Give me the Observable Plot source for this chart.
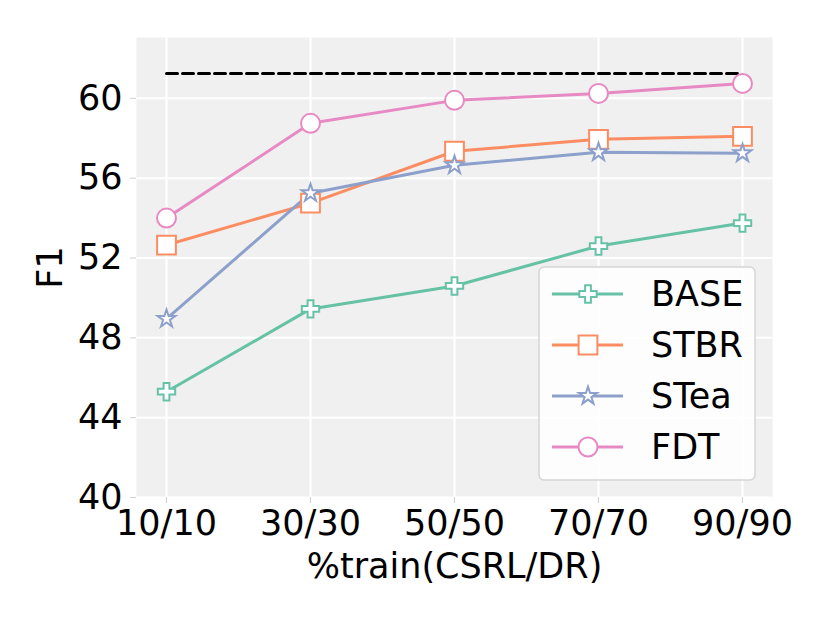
<!DOCTYPE html>
<html>
<head>
<meta charset="utf-8">
<script src="https://cdn.jsdelivr.net/npm/d3@7"></script>
<script src="https://cdn.jsdelivr.net/npm/@observablehq/plot@0.6"></script>
<style>
  html, body { margin: 0; padding: 0; background: white; }
</style>
</head>
<body>
<div id="chart"></div>
<script>
const categories = ["10/10", "30/30", "50/50", "70/70", "90/90"];
const seriesNames = ["BASE", "STBR", "STea", "FDT"];
const baseValues = [45.3, 49.45, 50.6, 52.6, 53.75];
const stbrValues = [52.65, 54.75, 57.35, 57.95, 58.1];
const steaValues = [48.95, 55.25, 56.65, 57.3, 57.25];
const fdtValues = [54.0, 58.75, 59.9, 60.25, 60.75];
const upperBound = 61.25;
const yTicks = [40, 44, 48, 52, 56, 60];
const colors = ["#66c2a5", "#fc8d62", "#8da0cb", "#e78ac3"];
const symbols = ["cross", "square", "star", "circle"];
const symbolR = [7.3, 10.6, 5.6, 9.5];

const valueLists = [baseValues, stbrValues, steaValues, fdtValues];
const rows = [];
seriesNames.forEach((s, i) => {
  categories.forEach((c, j) => rows.push({series: s, cat: c, value: valueLists[i][j]}));
});
const dashed = [{cat: categories[0], value: upperBound}, {cat: categories[categories.length - 1], value: upperBound}];

const font = "DejaVu Sans";
const fs = 35;
const marks = [
  Plot.frame({fill: "#f0f0f0", stroke: null}),
  Plot.gridX({stroke: "white", strokeOpacity: 1, strokeWidth: 2}),
  Plot.gridY(yTicks, {stroke: "white", strokeOpacity: 1, strokeWidth: 2}),
  Plot.axisX({tickSize: 6, tickPadding: 7, stroke: "#d0d0d0", fill: "black", fontSize: fs,
    label: "%train(CSRL/DR)", labelAnchor: "center", labelArrow: "none", labelOffset: 80}),
  Plot.axisY(yTicks, {tickSize: 6, tickPadding: 8, stroke: "#d0d0d0", fill: "black", fontSize: fs,
    label: "F1", labelAnchor: "center", labelArrow: "none", labelOffset: 99}),
  Plot.line(dashed, {x: "cat", y: "value", stroke: "black", strokeWidth: 3, strokeDasharray: "11,5"})
];
seriesNames.forEach((s, i) => {
  const d = rows.filter(r => r.series === s);
  marks.push(Plot.line(d, {x: "cat", y: "value", stroke: colors[i], strokeWidth: 3}));
});
seriesNames.forEach((s, i) => {
  const d = rows.filter(r => r.series === s);
  marks.push(Plot.dot(d, {x: "cat", y: "value", symbol: () => symbols[i], r: symbolR[i],
    fill: "white", stroke: colors[i], strokeWidth: 2}));
});

const chart = Plot.plot({
  width: 830,
  height: 623,
  marginLeft: 136,
  marginRight: 58,
  marginTop: 37,
  marginBottom: 126,
  style: {fontFamily: font, fontSize: fs + "px", background: "white", color: "black"},
  x: {type: "point", domain: categories, padding: 0.196, label: null},
  y: {domain: [40, 63.05], label: null},
  symbol: {domain: symbols, range: symbols},
  marks
});
document.getElementById("chart").appendChild(chart);

// Legend drawn into the same SVG
const svg = d3.select(chart);
const lg = svg.append("g").attr("class", "legend").attr("text-anchor", "start");
lg.append("rect")
  .attr("x", 539).attr("y", 267).attr("width", 216).attr("height", 213)
  .attr("rx", 5).attr("fill", "white").attr("fill-opacity", 0.85)
  .attr("stroke", "#d5d5d5").attr("stroke-width", 1.5);
const symTypes = {cross: d3.symbolCross, square: d3.symbolSquare, star: d3.symbolStar, circle: d3.symbolCircle};
seriesNames.forEach((s, i) => {
  const cy = 294 + i * 51;
  lg.append("line").attr("x1", 552).attr("x2", 623).attr("y1", cy).attr("y2", cy)
    .attr("stroke", colors[i]).attr("stroke-width", 3);
  lg.append("path")
    .attr("d", d3.symbol(symTypes[symbols[i]], symbolR[i] * symbolR[i] * Math.PI)())
    .attr("transform", `translate(588,${cy})`)
    .attr("fill", "white").attr("stroke", colors[i]).attr("stroke-width", 2);
  lg.append("text").attr("x", 651).attr("y", cy + 12)
    .attr("text-anchor", "start")
    .attr("font-family", font).attr("font-size", 35).attr("fill", "black")
    .text(s);
});
</script>
</body>
</html>
